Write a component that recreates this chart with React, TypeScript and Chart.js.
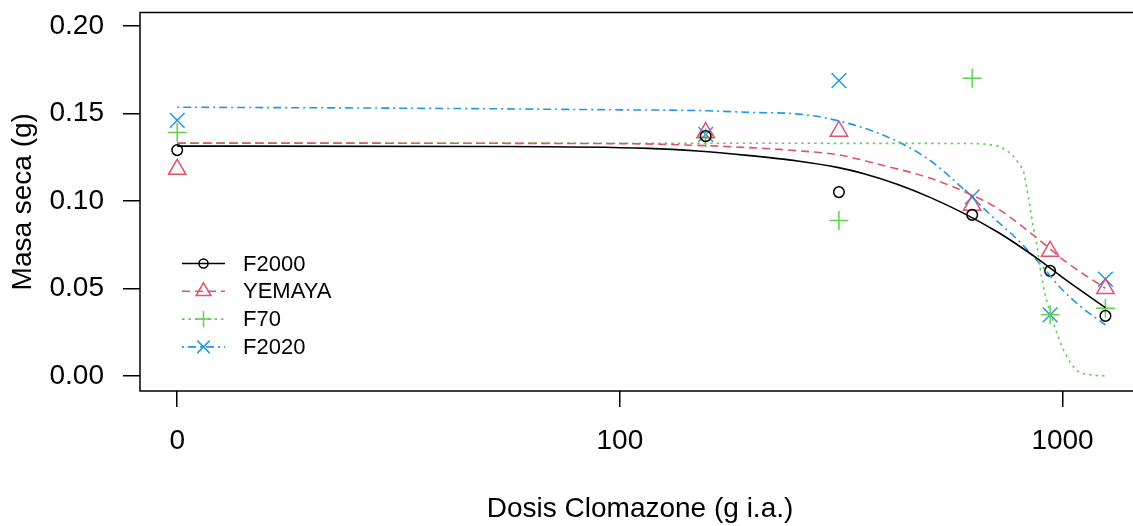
import React, { useEffect, useRef } from 'react';
import { Chart, registerables } from 'chart.js';

Chart.register(...registerables);

// ---- series meta ----
const seriesNames = ['F2000', 'YEMAYA', 'F70', 'F2020'];
const seriesColors = ['#000000', '#DF536B', '#61D04F', '#2297E6'];
const seriesPointStyles = ['circle', 'triangle', 'cross', 'crossRot'];
const seriesPointRadius = [5.3, 10, 9.5, 10.4];
const seriesDash: number[][] = [[], [8, 5], [2.5, 4], [2, 4, 8, 4]];

// ---- observed means (dose 0 is drawn at 10, as drc does) ----
const obsDoses = [10, 156.25, 312.5, 625, 937.5, 1250];
const obsF2000 = [0.129, 0.137, 0.105, 0.092, 0.060, 0.0343];
const obsYEMAYA = [0.118, 0.139, 0.1398, 0.0975, 0.0712, 0.0499];
const obsF70 = [0.139, 0.136, 0.0888, 0.170, 0.0349, 0.0387];
const obsF2020 = [0.146, 0.138, 0.1687, 0.1023, 0.0349, 0.0553];

// ---- fitted curves ----
const curveDoseF2000 = [10, 50, 116, 150, 194, 252, 312, 356, 423, 502, 597, 710, 774, 889, 1003, 1250];
const curveF2000 = [0.1313, 0.1311, 0.1300, 0.1285, 0.1260, 0.1228, 0.1190, 0.1155, 0.1095, 0.1020, 0.0930, 0.0825, 0.0765, 0.0660, 0.0560, 0.0390];

const curveDoseYEMAYA = [10, 100, 150, 200, 250, 312, 388, 502, 623, 710, 873, 1020, 1250];
const curveYEMAYA = [0.1330, 0.1327, 0.1317, 0.1303, 0.1287, 0.1263, 0.1206, 0.1130, 0.1034, 0.0960, 0.0790, 0.0650, 0.0500];

const curveDoseF70 = [10, 600, 710, 748, 777, 797, 818, 830, 843, 857, 875, 888, 911, 954, 1005, 1075, 1161, 1250];
const curveF70 = [0.1330, 0.1328, 0.1314, 0.1286, 0.1251, 0.1211, 0.1160, 0.1074, 0.0977, 0.0863, 0.0749, 0.0634, 0.0480, 0.0303, 0.0149, 0.0034, 0.0006, 0.0];

const curveDoseF2020 = [10, 40, 100, 150, 200, 250, 300, 400, 500, 600, 700, 800, 900, 1000, 1100, 1250];
const curveF2020 = [0.1535, 0.1528, 0.1520, 0.1516, 0.1505, 0.1497, 0.1467, 0.1368, 0.1234, 0.1063, 0.0901, 0.0767, 0.0625, 0.0491, 0.0396, 0.0291];

// ---- axes ----
const xTickValues = [10, 100, 1000];
const xTickLabels = ['0', '100', '1000'];
const yTickValues = [0, 0.05, 0.1, 0.15, 0.2];
const xTitle = 'Dosis Clomazone (g i.a.)';
const yTitle = 'Masa seca (g)';

const FONT = "'Liberation Sans', Arial, sans-serif";

function drawMarker(ctx: CanvasRenderingContext2D, style: string, x: number, y: number, r: number, color: string) {
  ctx.save();
  ctx.setLineDash([]);
  ctx.strokeStyle = color;
  ctx.lineWidth = 1.5;
  ctx.beginPath();
  if (style === 'circle') {
    ctx.arc(x, y, r, 0, Math.PI * 2);
  } else if (style === 'triangle') {
    ctx.moveTo(x, y - r);
    ctx.lineTo(x + r * Math.sin((2 * Math.PI) / 3), y + r * 0.5);
    ctx.lineTo(x - r * Math.sin((2 * Math.PI) / 3), y + r * 0.5);
    ctx.closePath();
  } else if (style === 'cross') {
    ctx.moveTo(x - r, y);
    ctx.lineTo(x + r, y);
    ctx.moveTo(x, y - r);
    ctx.lineTo(x, y + r);
  } else {
    const h = r * Math.SQRT1_2;
    ctx.moveTo(x - h, y - h);
    ctx.lineTo(x + h, y + h);
    ctx.moveTo(x + h, y - h);
    ctx.lineTo(x - h, y + h);
  }
  ctx.stroke();
  ctx.restore();
}

const boxPlugin = {
  id: 'rbox',
  afterDatasetsDraw(chart: any) {
    const { ctx, chartArea } = chart;
    const { left, top, right, bottom } = chartArea;
    ctx.save();
    ctx.strokeStyle = '#000';
    ctx.lineWidth = 1.5;
    ctx.setLineDash([]);
    ctx.strokeRect(left, top, right - left, bottom - top);
    ctx.restore();
  },
};

const legendPlugin = {
  id: 'rlegend',
  afterDraw(chart: any) {
    const ctx: CanvasRenderingContext2D = chart.ctx;
    const x0 = 182;
    const x1 = 225;
    const xm = 203.5;
    const xt = 243;
    const y0 = 263.5;
    const dy = 27.8;
    ctx.save();
    seriesNames.forEach((name, i) => {
      const y = y0 + i * dy;
      ctx.strokeStyle = seriesColors[i];
      ctx.lineWidth = 1.6;
      ctx.setLineDash(seriesDash[i]);
      ctx.beginPath();
      ctx.moveTo(x0, y);
      ctx.lineTo(x1, y);
      ctx.stroke();
      drawMarker(ctx, seriesPointStyles[i], xm, y, seriesPointRadius[i] * 0.85, seriesColors[i]);
      ctx.setLineDash([]);
      ctx.fillStyle = '#000';
      ctx.font = `22px ${FONT}`;
      ctx.textBaseline = 'middle';
      ctx.textAlign = 'left';
      ctx.fillText(name, xt, y + 1);
    });
    ctx.restore();
  },
};

export default function App() {
  const ref = useRef<HTMLCanvasElement>(null);

  useEffect(() => {
    const canvas = ref.current;
    if (!canvas) return;

    const obs = [obsF2000, obsYEMAYA, obsF70, obsF2020];
    const curveDoses = [curveDoseF2000, curveDoseYEMAYA, curveDoseF70, curveDoseF2020];
    const curves = [curveF2000, curveYEMAYA, curveF70, curveF2020];

    const datasets: any[] = [];
    seriesNames.forEach((name, i) => {
      datasets.push({
        label: name + ' fit',
        data: curveDoses[i].map((d, k) => ({ x: d, y: curves[i][k] })),
        showLine: true,
        borderColor: seriesColors[i],
        borderWidth: 1.6,
        borderDash: seriesDash[i],
        pointRadius: 0,
        pointHoverRadius: 0,
        fill: false,
        cubicInterpolationMode: 'monotone',
      });
    });
    seriesNames.forEach((name, i) => {
      datasets.push({
        label: name,
        data: obsDoses.map((d, k) => ({ x: d, y: obs[i][k] })),
        showLine: false,
        pointStyle: seriesPointStyles[i],
        pointRadius: seriesPointRadius[i],
        pointHoverRadius: seriesPointRadius[i],
        pointBorderColor: seriesColors[i],
        pointBackgroundColor: 'rgba(0,0,0,0)',
        pointBorderWidth: 1.5,
        borderColor: seriesColors[i],
      });
    });

    const chart = new Chart(canvas, {
      type: 'scatter',
      data: { datasets },
      options: {
        animation: false,
        responsive: false,
        devicePixelRatio: 1,
        layout: { padding: { top: 12.5, right: 4, left: 0, bottom: 0 } },
        plugins: {
          legend: { display: false },
          tooltip: { enabled: false },
        },
        events: [],
        scales: {
          x: {
            type: 'logarithmic',
            position: 'bottom',
            min: 8.24,
            max: 1497,
            afterBuildTicks: (s: any) => {
              s.ticks = xTickValues.map((v) => ({ value: v }));
            },
            afterFit: (s: any) => {
              s.height = 135;
              s.paddingLeft = 0;
              s.paddingRight = 0;
              s.paddingTop = 0;
              s.paddingBottom = 0;
            },
            ticks: {
              callback: (_v: any, i: number) => xTickLabels[i],
              font: { family: FONT, size: 28 },
              color: '#000',
              padding: 17,
              maxRotation: 0,
              minRotation: 0,
              autoSkip: false,
            },
            grid: {
              drawOnChartArea: false,
              drawTicks: true,
              tickLength: 16,
              color: '#000',
              lineWidth: 1.5,
            },
            border: { display: false },
            title: {
              display: true,
              text: xTitle,
              font: { family: FONT, size: 28 },
              color: '#000',
              padding: { top: 0, bottom: 0 },
            },
          },
          y: {
            type: 'linear',
            min: -0.0086,
            max: 0.2076,
            afterBuildTicks: (s: any) => {
              s.ticks = yTickValues.map((v) => ({ value: v }));
            },
            afterFit: (s: any) => {
              s.width = 140;
              s.paddingTop = 0;
              s.paddingBottom = 0;
              s.paddingLeft = 0;
              s.paddingRight = 0;
            },
            ticks: {
              callback: (_v: any, i: number) => yTickValues[i].toFixed(2),
              font: { family: FONT, size: 28 },
              color: '#000',
              padding: 19,
              autoSkip: false,
            },
            grid: {
              drawOnChartArea: false,
              drawTicks: true,
              tickLength: 17,
              color: '#000',
              lineWidth: 1.5,
            },
            border: { display: false },
            title: {
              display: true,
              text: yTitle,
              font: { family: FONT, size: 28 },
              color: '#000',
              padding: { top: 6, bottom: 0 },
            },
          },
        },
      } as any,
      plugins: [boxPlugin, legendPlugin],
    });

    return () => chart.destroy();
  }, []);

  return (
    <div
      style={{
        position: 'fixed',
        left: 0,
        top: 0,
        width: 1133,
        height: 526,
        overflow: 'hidden',
        background: '#fff',
      }}
    >
      <canvas ref={ref} width={1152} height={526} style={{ display: 'block', width: 1152, height: 526 }} />
    </div>
  );
}
